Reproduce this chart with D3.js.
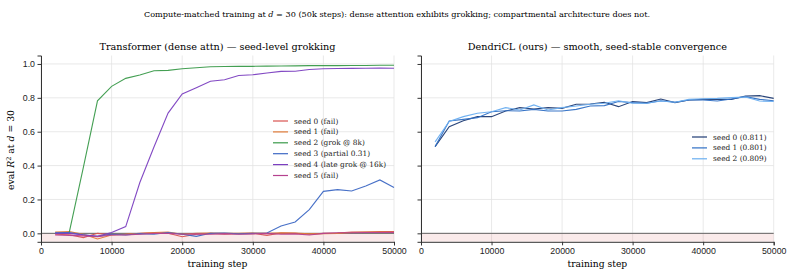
<!DOCTYPE html>
<html>
<head>
<meta charset="utf-8">
<script src="https://d3js.org/d3.v7.min.js"></script>
<style>
  body { margin: 0; background: #fff; }
  svg { font-family: "DejaVu Serif", serif; }
  .tick text { font-size: 8.8px; fill: #222; }
  .tick line { stroke: #333; }
  .grid line { stroke: #e3e3e3; stroke-width: 0.8; }
</style>
</head>
<body>
<svg width="794" height="276"></svg>
<script>
// training steps (every 2k)
const steps = [2000,4000,6000,8000,10000,12000,14000,16000,18000,20000,22000,24000,26000,28000,30000,
               32000,34000,36000,38000,40000,42000,44000,46000,48000,50000];

// transformer seeds
const tfLabels = ["seed 0 (fail)", "seed 1 (fail)", "seed 2 (grok @ 8k)", "seed 3 (partial 0.31)",
                  "seed 4 (late grok @ 16k)", "seed 5 (fail)"];
const tfColors = ["#d9534f", "#e07b39", "#3a9a4a", "#3d68c4", "#7b3fc0", "#b5428f"];
const tfSeed0 = [-0.005,-0.008,-0.025,0.0,-0.008,-0.005,0.0,0.003,0.0,-0.02,-0.005,0.0,-0.005,-0.002,0.0,
                 -0.012,0.002,0.0,-0.005,0.0,0.002,0.008,0.008,0.01,0.01];
const tfSeed1 = [0.008,0.01,-0.005,-0.033,-0.01,-0.005,-0.002,0.005,0.008,-0.005,0.0,0.002,0.0,0.0,0.002,
                 0.0,0.003,0.002,-0.003,-0.002,0.0,0.005,0.008,0.008,0.005];
const tfSeed2 = [0.0,0.005,0.39,0.782,0.868,0.915,0.935,0.96,0.962,0.972,0.978,0.984,0.985,0.986,0.986,
                 0.987,0.988,0.989,0.99,0.99,0.99,0.991,0.991,0.992,0.992];
const tfSeed3 = [0.003,0.005,-0.008,-0.018,-0.005,-0.01,-0.002,-0.005,0.005,-0.005,-0.018,0.0,0.002,-0.003,0.0,
                 0.002,0.043,0.067,0.14,0.248,0.258,0.25,0.28,0.315,0.27];
const tfSeed4 = [0.0,0.0,-0.01,-0.018,0.005,0.04,0.30,0.51,0.71,0.823,0.86,0.898,0.907,0.932,0.936,
                 0.947,0.956,0.957,0.967,0.972,0.973,0.974,0.975,0.976,0.975];
const tfSeed5 = [-0.01,-0.012,-0.015,-0.02,-0.01,-0.01,-0.005,0.0,0.0,-0.005,-0.003,-0.005,-0.002,-0.005,-0.003,
                 0.0,-0.005,-0.003,-0.01,0.0,0.003,0.003,0.005,0.005,0.005];

// dendricl seeds
const dcLabels = ["seed 0 (0.811)", "seed 1 (0.801)", "seed 2 (0.809)"];
const dcColors = ["#1f3b73", "#2f6fc4", "#6aaef0"];
const dcSeed0 = [0.512,0.63,0.665,0.689,0.689,0.722,0.742,0.734,0.742,0.738,0.762,0.764,0.774,0.748,0.778,
                 0.772,0.793,0.772,0.787,0.791,0.791,0.791,0.811,0.813,0.797];
const dcSeed1 = [0.512,0.663,0.673,0.683,0.718,0.724,0.722,0.732,0.722,0.722,0.732,0.752,0.754,0.778,0.772,
                 0.768,0.783,0.774,0.787,0.787,0.781,0.793,0.807,0.791,0.783];
const dcSeed2 = [0.54,0.66,0.689,0.709,0.718,0.742,0.728,0.758,0.728,0.742,0.752,0.762,0.768,0.783,0.768,
                 0.768,0.781,0.774,0.791,0.795,0.797,0.801,0.805,0.781,0.778];

const xTicks = [0,10000,20000,30000,40000,50000];
const yTicks = [0,0.2,0.4,0.6,0.8,1.0];

const svg = d3.select("svg");

svg.append("text").attr("x", 397).attr("y", 17).attr("text-anchor", "middle")
  .style("font-size", "8.15px")
  .html('Compute-matched training at <tspan font-style="italic">d</tspan> = 30 (50k steps): dense attention exhibits grokking; compartmental architecture does not.');

const y = d3.scaleLinear().domain([-0.05, 1.05]).range([241.8, 55.5]);

function panel(x0, x1, title, series, colors, labels, showYLabels, legendPos) {
  const x = d3.scaleLinear().domain([0, 50000]).range([x0, x1]);
  const g = svg.append("g");

  // grid
  g.append("g").attr("class", "grid").selectAll("line").data(xTicks).join("line")
    .attr("x1", d => x(d)).attr("x2", d => x(d)).attr("y1", y(-0.05)).attr("y2", y(1.05));
  g.append("g").attr("class", "grid").selectAll("line").data(yTicks).join("line")
    .attr("x1", x0).attr("x2", x1).attr("y1", d => y(d)).attr("y2", d => y(d));

  // failure band + zero line
  g.append("rect").attr("x", x0).attr("width", x1 - x0)
    .attr("y", y(0)).attr("height", y(-0.05) - y(0)).attr("fill", "#d9534f").attr("opacity", 0.12);
  g.append("line").attr("x1", x0).attr("x2", x1).attr("y1", y(0)).attr("y2", y(0))
    .attr("stroke", "#555").attr("stroke-width", 0.9);

  const line = d3.line().x((d, i) => x(steps[i])).y(d => y(d));
  series.forEach((s, i) => {
    g.append("path").attr("d", line(s)).attr("fill", "none")
      .attr("stroke", colors[i]).attr("stroke-width", 1.1).attr("opacity", 0.95);
  });

  // axes
  const ax = g.append("g").attr("transform", `translate(0,${y(-0.05)})`)
    .call(d3.axisBottom(x).tickValues(xTicks).tickSize(3.5).tickPadding(2).tickFormat(d3.format("d")));
  const ay = g.append("g").attr("transform", `translate(${x0},0)`)
    .call(d3.axisLeft(y).tickValues(yTicks).tickSize(3.5).tickPadding(2.5).tickFormat(d3.format(".1f")));
  if (!showYLabels) ay.selectAll("text").remove();
  [ax, ay].forEach(a => a.select(".domain").attr("stroke", "#333").attr("stroke-width", 1));

  g.append("text").attr("x", (x0 + x1) / 2).attr("y", 267).attr("text-anchor", "middle")
    .style("font-size", "9.2px").text("training step");
  g.append("text").attr("x", (x0 + x1) / 2).attr("y", 50).attr("text-anchor", "middle")
    .style("font-size", "9.7px").text(title);

  // legend
  const lg = g.append("g").attr("transform", `translate(${legendPos[0]},${legendPos[1]})`);
  labels.forEach((lab, i) => {
    const row = lg.append("g").attr("transform", `translate(0,${i * 10.9})`);
    row.append("line").attr("x1", 0).attr("x2", 15).attr("stroke", colors[i]).attr("stroke-width", 1.2);
    row.append("text").attr("x", 21).attr("y", 2.5).style("font-size", "7.4px").attr("fill", "#222").text(lab);
  });
}

panel(41, 394, "Transformer (dense attn) \u2014 seed-level grokking",
  [tfSeed0, tfSeed1, tfSeed2, tfSeed3, tfSeed4, tfSeed5], tfColors, tfLabels, true, [273, 121]);
panel(421, 773.7, "DendriCL (ours) \u2014 smooth, seed-stable convergence",
  [dcSeed0, dcSeed1, dcSeed2], dcColors, dcLabels, false, [692, 137]);

svg.append("text").attr("transform", "translate(14,150) rotate(-90)").attr("text-anchor", "middle")
  .style("font-size", "9.3px")
  .html('eval <tspan font-style="italic">R</tspan><tspan dy="-3.2" font-size="6.5px">2</tspan><tspan dy="3.2"> at </tspan><tspan font-style="italic">d</tspan> = 30');
</script>
</body>
</html>
